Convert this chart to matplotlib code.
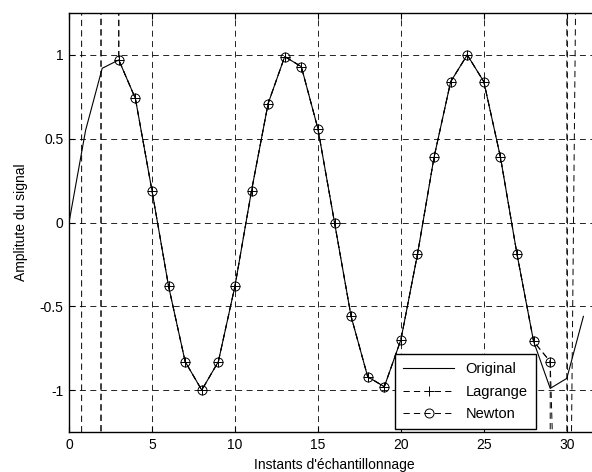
import matplotlib
matplotlib.use('Agg')
import matplotlib.pyplot as plt

plt.rcParams['font.family'] = ['Liberation Sans', 'DejaVu Sans']
plt.rcParams['axes.unicode_minus'] = False
plt.rcParams['lines.scale_dashes'] = False

# instants d'echantillonnage
x = list(range(32))

# signal original
original = [0.0, 0.55, 0.92, 0.97, 0.74, 0.19, -0.38, -0.83, -1.0, -0.83,
            -0.38, 0.19, 0.71, 0.99, 0.93, 0.56, 0.0, -0.56, -0.92, -0.98,
            -0.70, -0.19, 0.39, 0.84, 1.0, 0.84, 0.39, -0.19, -0.71, -0.99,
            -0.93, -0.56]

# interpolation de Lagrange (diverge aux extremites)
lagrange = [12700, -4000, 300, 0.97, 0.74, 0.19, -0.38, -0.83, -1.0, -0.83,
            -0.38, 0.19, 0.71, 0.99, 0.93, 0.56, 0.0, -0.56, -0.92, -0.98,
            -0.70, -0.19, 0.39, 0.84, 1.0, 0.84, 0.39, -0.19, -0.71, -0.83,
            -2000, 900000]

# interpolation de Newton
newton = [-15000, -4500, 350, 0.97, 0.74, 0.19, -0.38, -0.83, -1.0, -0.83,
          -0.38, 0.19, 0.71, 0.99, 0.93, 0.56, 0.0, -0.56, -0.92, -0.98,
          -0.70, -0.19, 0.39, 0.84, 1.0, 0.84, 0.39, -0.19, -0.71, -0.83,
          -4.2, 6.2]

xticks = [0, 5, 10, 15, 20, 25, 30]
yticks = [-1, -0.5, 0, 0.5, 1]

fig = plt.figure(figsize=(5.92, 4.72), dpi=100)
# l'axe depasse a droite (image recadree)
ax = fig.add_axes([69 / 592, 40 / 472, 531 / 592, 419 / 472])

ax.plot(x, original, '-', color='black', linewidth=0.8, label='Original')
ax.plot(x, lagrange, color='black', linewidth=0.7, dashes=(4.5, 3),
        marker='+', markersize=7, markeredgewidth=0.7, label='Lagrange')
ax.plot(x, newton, color='black', linewidth=0.7, dashes=(4.5, 3),
        marker='o', markersize=6.5, markerfacecolor='none',
        markeredgewidth=0.7, label='Newton')

ax.set_xlim(0, 32)
ax.set_ylim(-1.25, 1.25)
ax.set_xticks(xticks)
ax.set_yticks(yticks)
ax.set_yticklabels(['-1', '-0.5', '0', '0.5', '1'])

ax.grid(True, color='black', linewidth=0.6, dashes=(4.3, 3.2))
ax.tick_params(direction='in', length=4, top=True, right=True,
               labelsize=10, pad=4, width=0.8)
for s in ax.spines.values():
    s.set_linewidth(1.0)

ax.set_xlabel("Instants d'échantillonnage", fontsize=10, labelpad=5)
ax.set_ylabel('Amplitute du signal', fontsize=10, labelpad=8)

leg = ax.legend(loc='lower right', bbox_to_anchor=(0.879, 0.006),
                borderaxespad=0, fontsize=10.5, handlelength=3.5,
                fancybox=False, framealpha=1, edgecolor='black',
                borderpad=0.55, labelspacing=0.6)
leg.get_frame().set_linewidth(1.0)

fig.savefig('out.png', dpi=100)
